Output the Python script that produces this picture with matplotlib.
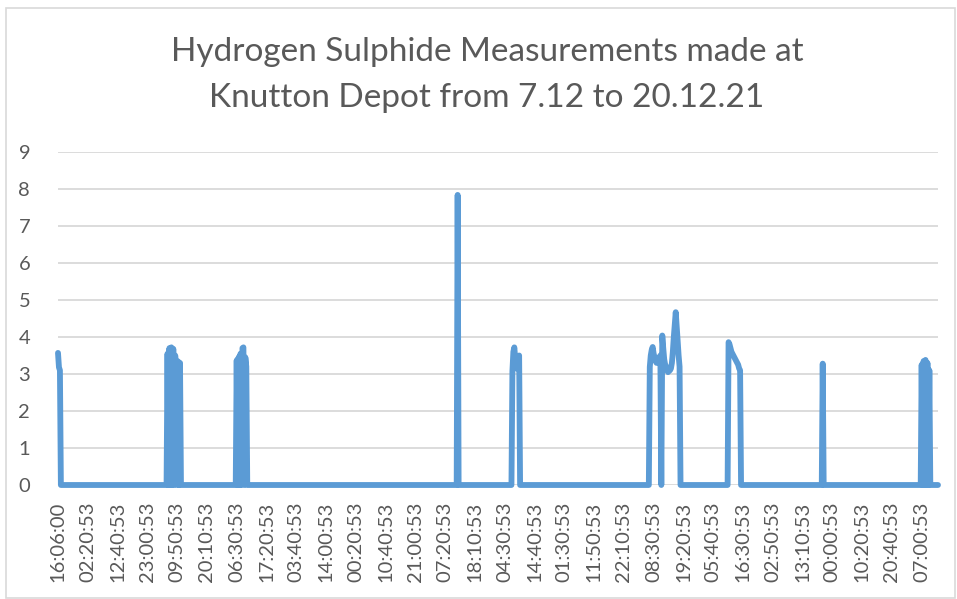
import numpy as np
import matplotlib
matplotlib.use('Agg')
import matplotlib.pyplot as plt
from matplotlib.patches import Rectangle

# Category axis: one reading per slot, a label every 31 slots
n_points = 917
tick_step = 31
tick_labels = ['16:06:00', '02:20:53', '12:40:53', '23:00:53', '09:50:53', '20:10:53',
               '06:30:53', '17:20:53', '03:40:53', '14:00:53', '00:20:53', '10:40:53',
               '21:00:53', '07:20:53', '18:10:53', '04:30:53', '14:40:53', '01:30:53',
               '11:50:53', '22:10:53', '08:30:53', '19:20:53', '05:40:53', '16:30:53',
               '02:50:53', '13:10:53', '00:00:53', '10:20:53', '20:40:53', '07:00:53']

# Non-zero episodes (start slot, readings); everything else reads 0
burst_starts = [0, 114, 186, 416, 473, 616, 698, 796, 899]
burst_1 = [3.57, 3.18, 3.1]
burst_2 = [3.55, 0, 3.7, 0, 3.72, 0, 3.68, 0, 3.5, 3.1, 0, 3.34, 0, 3.3]
burst_3 = [3.37, 0, 3.45, 0, 3.55, 0, 3.7, 3.72, 0, 3.45, 3.2]
burst_4 = [7.84]
burst_5 = [3.08, 3.6, 3.72, 3.4, 3.15, 3.3, 3.45, 3.5]
burst_6 = [3.19, 3.5, 3.65, 3.73, 3.55, 3.45, 3.35, 3.3, 3.35, 3.4, 3.45, 3.5, 0,
           4.04, 3.7, 3.4, 3.25, 3.2, 3.1, 3.05, 3.08, 3.1, 3.15, 3.3, 3.6, 4.0,
           4.35, 4.67, 4.3, 3.9, 3.5, 3.2]
burst_7 = [3.86, 3.8, 3.7, 3.6, 3.55, 3.5, 3.45, 3.4, 3.35, 3.3, 3.25, 3.15, 3.1]
burst_8 = [3.28]
burst_9 = [3.25, 0, 3.35, 0, 3.38, 0, 3.3, 0, 3.1]
bursts = [burst_1, burst_2, burst_3, burst_4, burst_5, burst_6, burst_7, burst_8, burst_9]

readings = np.zeros(n_points)
for start, vals in zip(burst_starts, bursts):
    readings[start:start + len(vals)] = vals

text_col = '#595959'
grid_col = '#d9d9d9'
line_col = '#5b9bd5'
plt.rcParams['font.family'] = ['Lato', 'DejaVu Sans']

W, H = 957, 599
fig = plt.figure(figsize=(W / 100, H / 100), dpi=100)
ax = fig.add_axes([58 / W, 1 - 485 / H, (938 - 58) / W, (485 - 152) / H])

x = np.arange(n_points)
ax.plot(x, readings, color=line_col, lw=4.2, solid_joinstyle='round',
        solid_capstyle='round', clip_on=False, zorder=3)

ax.set_xlim(0, n_points - 1)
ax.set_ylim(0, 9)
ax.set_yticks(range(10))
ax.set_xticks(np.arange(len(tick_labels)) * tick_step)
ax.set_xticklabels(tick_labels, rotation=90)
ax.tick_params(axis='x', length=0, pad=12, labelsize=14.5, labelcolor=text_col)
ax.tick_params(axis='y', length=0, pad=20, labelsize=14.5, labelcolor=text_col)
ax.grid(axis='y', color=grid_col, lw=1.3)
ax.set_axisbelow(True)
for s in ax.spines.values():
    s.set_visible(False)

fig.text(487 / W, 1 - 52 / H, 'Hydrogen Sulphide Measurements made at',
         ha='center', va='center', fontsize=24, color=text_col)
fig.text(487 / W, 1 - 98 / H, 'Knutton Depot from 7.12 to 20.12.21',
         ha='center', va='center', fontsize=24, color=text_col)

fig.patches.append(Rectangle((6 / W, 0.002), (W - 8) / W, 1 - 8 / H - 0.002,
                             transform=fig.transFigure, fill=False,
                             edgecolor=grid_col, lw=1.2))

fig.savefig('out.png', dpi=100)
